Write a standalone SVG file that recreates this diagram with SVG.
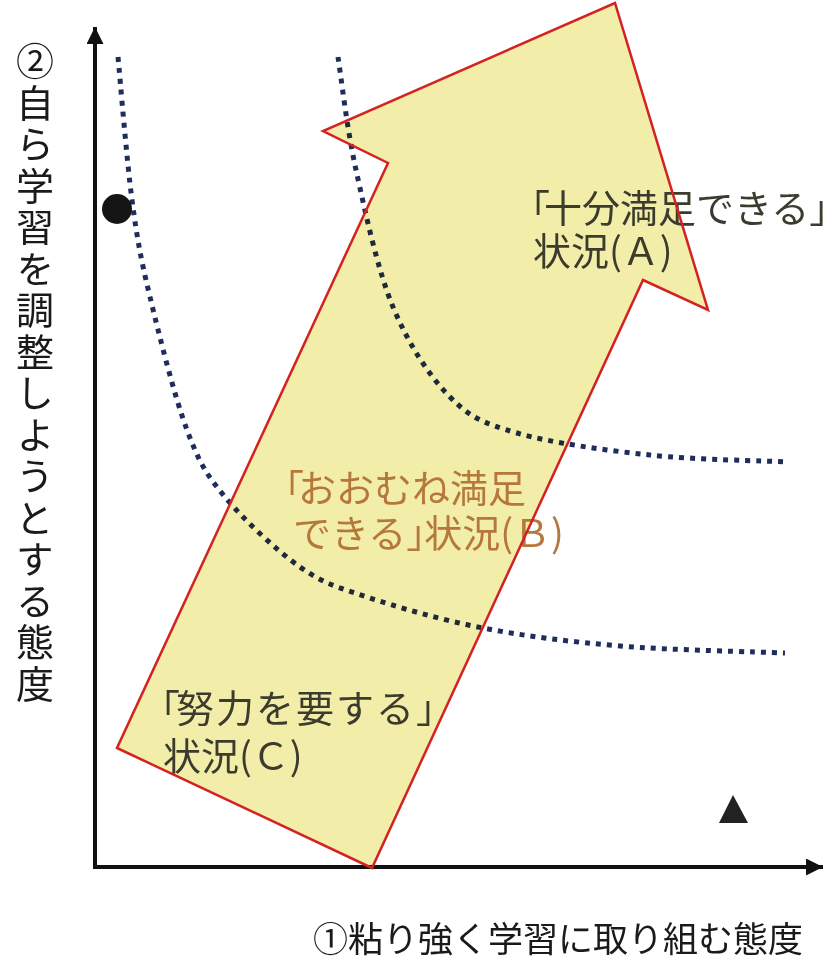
<svg xmlns="http://www.w3.org/2000/svg" width="840" height="963" viewBox="0 0 840 963">
  <defs>
    <marker id="axhead" viewBox="0 0 10 10" refX="10" refY="5" markerWidth="17" markerHeight="17" markerUnits="userSpaceOnUse" orient="auto">
      <path d="M0,0 L10,5 L0,10 z" fill="#111"/>
    </marker>
    <style>
      .axis { stroke: #111; stroke-width: 4; fill: none; }
      .dots { stroke: #1f2d5a; stroke-width: 5; stroke-dasharray: 5 6; fill: none; mix-blend-mode: multiply; }
      .afill { fill: #f2eda8; stroke: none; }
      .aline { fill: none; stroke: #d42222; stroke-width: 2.5; stroke-linejoin: miter; }
      .lab { font-family: "Noto Sans CJK JP", "Noto Sans", sans-serif; font-size: 38px; }
      .dark { fill: #3b3b2e; }
      .brown { fill: #b5773a; }
      .axl { font-family: "Noto Sans CJK JP", "Noto Sans", sans-serif; fill: #1a1a1a; }
    </style>
  </defs>

  <rect width="840" height="963" fill="#ffffff"/>

  <g id="arrow-fill">
    <polygon class="afill" points="117,748 372,868 643,280 708,310 615,3 323,131 388,163"/>
  </g>

  <g id="curves">
    <path class="dots" d="M118,57 C120.3,80.8 126.7,160 132,200 C137.3,240 140.8,258.7 150,297 C159.2,335.3 174.5,396.7 187,430 C199.5,463.3 206.2,474.2 225,497 C243.8,519.8 276.3,550.3 300,567 C323.7,583.7 336.5,586.8 367,597 C397.5,607.2 440.8,619.8 483,628 C525.2,636.2 569.7,641.8 620,646 C670.3,650.2 757.5,651.8 785,653"/>
    <path class="dots" d="M338,57 C341,75.8 346.8,128.3 356,170 C365.2,211.7 377.3,269.2 393,307 C408.7,344.8 429.3,376 450,397 C470.7,418 483.7,423.3 517,433 C550.3,442.7 604.8,450.2 650,455 C695.2,459.8 765,460.8 788,462"/>
  </g>

  <g id="axes">
    <line class="axis" x1="95" y1="869" x2="95" y2="27" marker-end="url(#axhead)"/>
    <line class="axis" x1="93" y1="867" x2="823" y2="867" marker-end="url(#axhead)"/>
  </g>

  <g id="point-circle">
    <circle cx="117" cy="209" r="15" fill="#151515"/>
  </g>
  <g id="point-triangle">
    <polygon points="733,795 719,823 748,823" fill="#222"/>
  </g>

  <g id="label-c">
    <text class="lab dark" x="142" y="722" letter-spacing="2">「<tspan dx="-6">努力を要する」</tspan></text>
    <text class="lab dark" x="163" y="770">状況(Ｃ)</text>
  </g>

  <g id="label-b">
    <text class="lab brown" x="266" y="502">「<tspan dx="-6">おおむね満足</tspan></text>
    <text class="lab brown" x="293" y="547">できる」<tspan dx="-20">状況(Ｂ)</tspan></text>
  </g>

  <g id="label-a">
    <text class="lab dark" x="512" y="222" font-size="36">「<tspan dx="-6">十分満足できる」</tspan></text>
    <text class="lab dark" x="533" y="265">状況(Ａ)</text>
  </g>

  <g id="arrow-outline">
    <polygon class="aline" points="117,748 372,868 643,280 708,310 615,3 323,131 388,163"/>
  </g>

  <g id="axis-labels">
    <text class="axl" x="313" y="952" font-size="35">①粘り強く学習に取り組む態度</text>
    <text class="axl" x="35" y="42" font-size="38" letter-spacing="3.5" style="writing-mode: vertical-rl;">②自ら学習を調整しようとする態度</text>
  </g>
</svg>
